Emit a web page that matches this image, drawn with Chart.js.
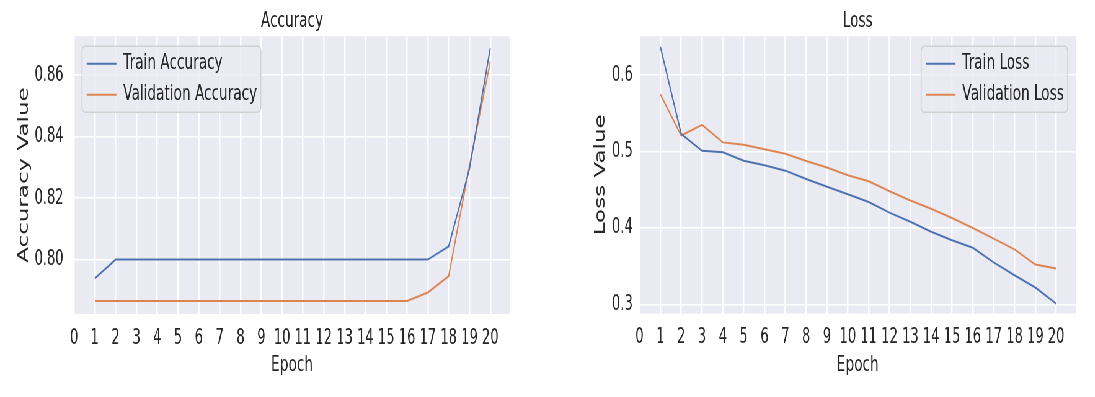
<!DOCTYPE html>
<html><head><meta charset="utf-8">
<script src="https://cdn.jsdelivr.net/npm/chart.js@4.4.1/dist/chart.umd.min.js"></script>
<style>
html,body{margin:0;padding:0;background:#fff;overflow:hidden;width:1095px;height:397px;}
#wrap{position:absolute;left:0;top:0;width:1766px;height:397px;transform:scaleX(0.62);transform-origin:0 0;}
#accCanvas{position:absolute;left:0;top:0;}
#lossCanvas{position:absolute;left:880px;top:0;}
</style></head><body>
<div id="wrap"><canvas id="accCanvas" width="880" height="397"></canvas><canvas id="lossCanvas" width="886" height="397"></canvas></div>
<script>
const epochs = [1,2,3,4,5,6,7,8,9,10,11,12,13,14,15,16,17,18,19,20];
const xTickValues = [0,1,2,3,4,5,6,7,8,9,10,11,12,13,14,15,16,17,18,19,20];
const trainAccuracy = [0.7939,0.80,0.80,0.80,0.80,0.80,0.80,0.80,0.80,0.80,0.80,0.80,0.80,0.80,0.80,0.80,0.80,0.8043,0.8295,0.8688];
const validationAccuracy = [0.7865,0.7865,0.7865,0.7865,0.7865,0.7865,0.7865,0.7865,0.7865,0.7865,0.7865,0.7865,0.7865,0.7865,0.7865,0.7865,0.7893,0.7946,0.8305,0.8643];
const trainLoss = [0.637,0.523,0.501,0.499,0.488,0.482,0.475,0.464,0.454,0.444,0.434,0.420,0.408,0.395,0.384,0.374,0.355,0.338,0.322,0.301];
const validationLoss = [0.575,0.521,0.535,0.512,0.509,0.503,0.497,0.4875,0.479,0.469,0.461,0.448,0.436,0.425,0.413,0.400,0.386,0.372,0.352,0.347];
const accuracyTicks = [0.80,0.82,0.84,0.86];
const lossTicks = [0.3,0.4,0.5,0.6];

const FAMILY = "'DejaVu Sans', sans-serif";
const TEXT = '#262626';
const BLUE = '#4C72B0';
const ORANGE = '#DD8452';
const LEGEND_SIZE = 22;
const LEGEND_PAD = 9;
const LEGEND_LINE = 48;

function pts(vals){ return epochs.map((e,i)=>({x:e,y:vals[i]})); }

function panelPlugin(corner){
  return {
    id:'panel',
    beforeDraw(chart){
      const {ctx, chartArea:a} = chart;
      ctx.save(); ctx.fillStyle='#EAEAF2';
      ctx.fillRect(a.left,a.top,a.right-a.left,a.bottom-a.top); ctx.restore();
    },
    afterLayout(chart){
      const lg = chart.legend, a = chart.chartArea, ctx = chart.ctx;
      const tb = chart.titleBlock;
      if (tb){ tb.left = a.left; tb.right = a.right; tb.width = a.right - a.left; }
      ctx.save(); ctx.font = LEGEND_SIZE + 'px ' + FAMILY;
      const maxW = Math.max(...chart.data.datasets.map(d=>ctx.measureText(d.label).width));
      ctx.restore();
      const inner = LEGEND_LINE + LEGEND_SIZE/2 + maxW;
      let left;
      if (corner === 'left') left = a.left + 11.4;
      else left = a.right - 13.4 - 6 - inner - LEGEND_PAD;
      lg.left = left; lg.top = a.top + 7.5;
      lg.width = inner + 2*LEGEND_PAD; lg.height = 140;
      lg.right = lg.left + lg.width; lg.bottom = lg.top + lg.height;
      const bx = left + LEGEND_PAD - 7.5;
      lg._box = {x:bx, y:a.top+10, w:(left+LEGEND_PAD+inner+6)-bx, h:66};
      if (!lg._wrapped){
        const orig = lg.draw.bind(lg);
        lg.draw = function(area){
          const b = lg._box; const c = chart.ctx;
          c.save();
          c.beginPath();
          if (c.roundRect) c.roundRect(b.x,b.y,b.w,b.h,5); else c.rect(b.x,b.y,b.w,b.h);
          c.fillStyle='rgba(234,234,242,0.8)'; c.fill();
          c.lineWidth=1.6; c.strokeStyle='rgba(204,204,204,0.85)'; c.stroke();
          c.restore();
          orig(area);
        };
        lg._wrapped = true;
      }
    }
  };
}

function makeChart(id, o){
  return new Chart(document.getElementById(id), {
    type:'line',
    data:{datasets:[
      {label:o.labels[0], data:pts(o.series[0]), borderColor:BLUE, backgroundColor:BLUE, borderWidth:2, pointRadius:0, tension:0},
      {label:o.labels[1], data:pts(o.series[1]), borderColor:ORANGE, backgroundColor:ORANGE, borderWidth:2, pointRadius:0, tension:0}
    ]},
    options:{
      responsive:false, animation:false, devicePixelRatio:1,
      layout:{padding:{left:0,right:o.padRight,top:0,bottom:0}},
      plugins:{
        tooltip:{enabled:false},
        title:{display:true, text:o.title, color:TEXT, font:{family:FAMILY,size:22,weight:'normal'}, padding:{top:8,bottom:1.8}},
        legend:{position:'chartArea', align:'start',
          labels:{usePointStyle:true, pointStyle:'line', pointStyleWidth:LEGEND_LINE, padding:LEGEND_PAD, color:TEXT,
            font:{family:FAMILY,size:LEGEND_SIZE}}}
      },
      scales:{
        x:{type:'linear', min:0, max:20.95,
          grid:{color:'#FFFFFF', lineWidth:2.4, drawTicks:false},
          border:{display:false},
          ticks:{color:TEXT, font:{family:FAMILY,size:21}, padding:11.7, includeBounds:false, maxRotation:0, autoSkip:false},
          title:{display:true, text:'Epoch', color:TEXT, font:{family:FAMILY,size:22}, padding:{top:0,bottom:19}},
          afterBuildTicks(s){ s.ticks = xTickValues.map(v=>({value:v})); },
          afterFit(s){ s.height = 397 - o.plotBottom; }
        },
        y:{type:'linear', min:o.yMin, max:o.yMax,
          grid:{color:'#FFFFFF', lineWidth:1.5, drawTicks:false},
          border:{display:false},
          ticks:{color:TEXT, font:{family:FAMILY,size:21}, padding:o.yTickPad, includeBounds:false,
            callback:(v)=>v.toFixed(o.decimals)},
          title:{display:true, text:o.yTitle, color:TEXT, font:{family:FAMILY,size:23}, padding:{top:o.yTitlePad,bottom:0}},
          afterBuildTicks(s){ s.ticks = o.yTicks.map(v=>({value:v})); },
          afterFit(s){ s.width = o.plotLeft; }
        }
      }
    },
    plugins:[panelPlugin(o.corner)]
  });
}

makeChart('accCanvas', {
  title:'Accuracy', labels:['Train Accuracy','Validation Accuracy'], series:[trainAccuracy, validationAccuracy],
  yMin:0.7823, yMax:0.8727, yTicks:accuracyTicks, decimals:2, yTitle:'Accuracy Value',
  plotLeft:119.4, padRight:57.4, plotBottom:314, yTickPad:17, yTitlePad:25, corner:'left'
});
makeChart('lossCanvas', {
  title:'Loss', labels:['Train Loss','Validation Loss'], series:[trainLoss, validationLoss],
  yMin:0.288, yMax:0.651, yTicks:lossTicks, decimals:1, yTitle:'Loss Value',
  plotLeft:151.5, padRight:30.6, plotBottom:313.5, yTickPad:11, yTitlePad:75, corner:'right'
});
</script>
</body></html>
